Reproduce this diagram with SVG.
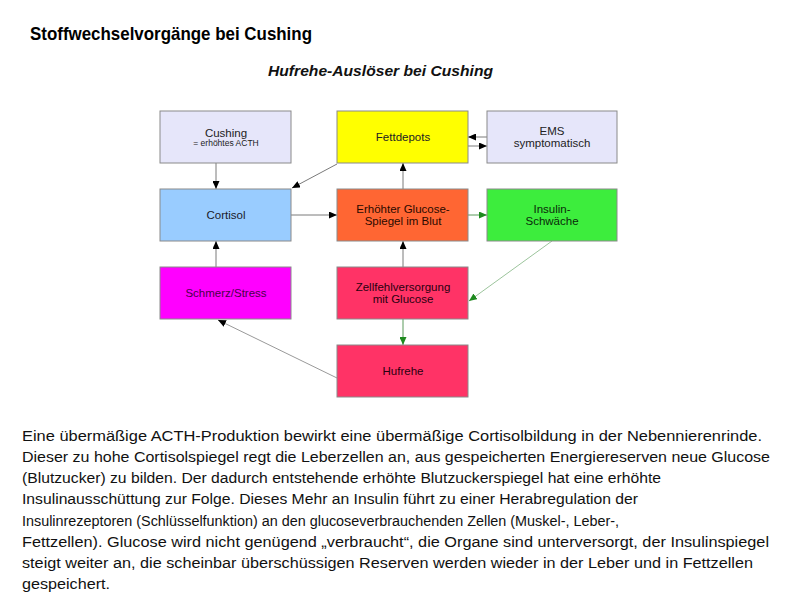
<svg xmlns="http://www.w3.org/2000/svg" width="800" height="600" viewBox="0 0 800 600">
<style>
.box{stroke:#8a8a8a;stroke-width:1}
.t{font-family:"Liberation Sans",Arial,sans-serif;font-size:11.5px;text-anchor:middle}
.e{stroke:#7a7a7a;stroke-width:1;fill:none}
.g{stroke:#5a9a5a;stroke-width:1;fill:none}
.lg{stroke:#9cc49c;stroke-width:1;fill:none}
.body{font-family:"Liberation Sans",Arial,sans-serif;font-size:15.5px;fill:#111}
</style>
<defs>
<marker id="ab" markerWidth="8" markerHeight="7" refX="8" refY="3.5" orient="auto" markerUnits="userSpaceOnUse"><path d="M0,0 L8,3.5 L0,7 Z" fill="#000"/></marker>
<marker id="ag" markerWidth="8" markerHeight="7" refX="8" refY="3.5" orient="auto" markerUnits="userSpaceOnUse"><path d="M0,0 L8,3.5 L0,7 Z" fill="#1e8a1e"/></marker>
</defs>
<rect width="800" height="600" fill="#fff"/>
<text x="30" y="40" font-family="'Liberation Sans',Arial,sans-serif" font-weight="bold" font-size="18.5" textLength="282" lengthAdjust="spacingAndGlyphs" fill="#000">Stoffwechselvorgänge bei Cushing</text>
<text x="268" y="76" font-family="'Liberation Sans',Arial,sans-serif" font-weight="bold" font-style="italic" font-size="15.5" textLength="225" lengthAdjust="spacingAndGlyphs" fill="#111">Hufrehe-Auslöser bei Cushing</text>
<g id="connectors">
<line class="e" x1="216" y1="163" x2="216" y2="189" marker-end="url(#ab)"/>
<line class="e" x1="337" y1="164" x2="292" y2="188" marker-end="url(#ab)"/>
<line class="e" x1="291" y1="215" x2="337" y2="215" marker-end="url(#ab)"/>
<line class="e" x1="403" y1="189" x2="403" y2="163" marker-end="url(#ab)"/>
<line class="e" x1="487" y1="137" x2="468" y2="137" marker-end="url(#ab)"/>
<line class="e" x1="468" y1="146" x2="487" y2="146" marker-end="url(#ab)"/>
<line class="g" x1="468" y1="215" x2="487" y2="215" marker-end="url(#ag)"/>
<line class="lg" x1="552" y1="241" x2="469" y2="301" marker-end="url(#ag)"/>
<line class="g" x1="403" y1="319" x2="403" y2="345" marker-end="url(#ag)"/>
<line class="e" x1="337" y1="378" x2="218" y2="320" style="stroke:#999" marker-end="url(#ab)"/>
<line class="e" x1="216" y1="267" x2="216" y2="241" marker-end="url(#ab)"/>
<line class="e" x1="403" y1="267" x2="403" y2="241" marker-end="url(#ab)"/>
</g>
<g id="cushing"><rect class="box" x="160" y="111" width="131" height="52" fill="#e6e6fa"/><text class="t" x="226" y="137" fill="#222">Cushing</text><text class="t" x="226" y="146" style="font-size:8.5px" fill="#222">= erhöhtes ACTH</text></g>
<g id="fettdepots"><rect class="box" x="337" y="111" width="131" height="52" fill="#ffff00"/><text class="t" x="403" y="141" fill="#222">Fettdepots</text></g>
<g id="ems"><rect class="box" x="487" y="111" width="130" height="52" fill="#e6e6fa"/><text class="t" x="552" y="135" fill="#222">EMS</text><text class="t" x="552" y="147" fill="#222">symptomatisch</text></g>
<g id="cortisol"><rect class="box" x="160" y="189" width="131" height="52" fill="#99ccff"/><text class="t" x="226" y="219" fill="#1a1a2a">Cortisol</text></g>
<g id="glucose"><rect class="box" x="337" y="189" width="131" height="52" fill="#ff6633"/><text class="t" x="403" y="213" fill="#2a0a00">Erhöhter Glucose-</text><text class="t" x="403" y="225" fill="#2a0a00">Spiegel im Blut</text></g>
<g id="insulin"><rect class="box" x="487" y="189" width="130" height="52" fill="#3ded3d"/><text class="t" x="552" y="213" fill="#0a2a0a">Insulin-</text><text class="t" x="552" y="225" fill="#0a2a0a">Schwäche</text></g>
<g id="schmerz"><rect class="box" x="160" y="267" width="131" height="52" fill="#ff00ff"/><text class="t" x="226" y="297" fill="#4a004a">Schmerz/Stress</text></g>
<g id="zellfehl"><rect class="box" x="337" y="267" width="131" height="52" fill="#ff3366"/><text class="t" x="403" y="291" fill="#2a0010">Zellfehlversorgung</text><text class="t" x="403" y="303" fill="#2a0010">mit Glucose</text></g>
<g id="hufrehe"><rect class="box" x="337" y="345" width="131" height="52" fill="#ff3366"/><text class="t" x="403" y="375" fill="#2a0010">Hufrehe</text></g>
<g id="body">
<text class="body" x="22" y="441" textLength="740" lengthAdjust="spacingAndGlyphs">Eine übermäßige ACTH-Produktion bewirkt eine übermäßige Cortisolbildung in der Nebennierenrinde.</text>
<text class="body" x="22" y="462" textLength="748" lengthAdjust="spacingAndGlyphs">Dieser zu hohe Cortisolspiegel regt die Leberzellen an, aus gespeicherten Energiereserven neue Glucose</text>
<text class="body" x="22" y="483" textLength="639" lengthAdjust="spacingAndGlyphs">(Blutzucker) zu bilden. Der dadurch entstehende erhöhte Blutzuckerspiegel hat eine erhöhte</text>
<text class="body" x="22" y="504" textLength="616" lengthAdjust="spacingAndGlyphs">Insulinausschüttung zur Folge. Dieses Mehr an Insulin führt zu einer Herabregulation der</text>
<text class="body" x="22" y="526" textLength="597" lengthAdjust="spacingAndGlyphs">Insulinrezeptoren (Schlüsselfunktion) an den glucoseverbrauchenden Zellen (Muskel-, Leber-,</text>
<text class="body" x="22" y="547" textLength="747" lengthAdjust="spacingAndGlyphs">Fettzellen). Glucose wird nicht genügend „verbraucht“, die Organe sind unterversorgt, der Insulinspiegel</text>
<text class="body" x="22" y="568" textLength="731" lengthAdjust="spacingAndGlyphs">steigt weiter an, die scheinbar überschüssigen Reserven werden wieder in der Leber und in Fettzellen</text>
<text class="body" x="22" y="589" textLength="88" lengthAdjust="spacingAndGlyphs">gespeichert.</text>
</g>
</svg>
